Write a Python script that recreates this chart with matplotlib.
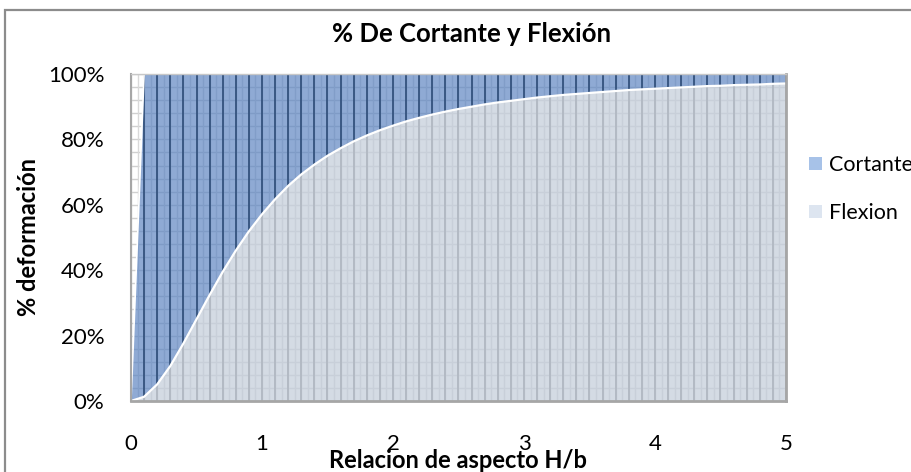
import numpy as np
import matplotlib
matplotlib.use("Agg")
import matplotlib.pyplot as plt
from matplotlib.patches import Patch, Rectangle
from matplotlib.ticker import PercentFormatter
from matplotlib.collections import LineCollection

plt.rcParams['font.family'] = ['Lato', 'DejaVu Sans']

# ---- data ----
relacion = [0.0, 0.1, 0.2, 0.3, 0.4, 0.5, 0.6, 0.7, 0.8, 0.9,
            1.0, 1.1, 1.2, 1.3, 1.4, 1.5, 1.6, 1.7, 1.8, 1.9,
            2.0, 2.1, 2.2, 2.3, 2.4, 2.5, 2.6, 2.7, 2.8, 2.9,
            3.0, 3.1, 3.2, 3.3, 3.4, 3.5, 3.6, 3.7, 3.8, 3.9,
            4.0, 4.1, 4.2, 4.3, 4.4, 4.5, 4.6, 4.7, 4.8, 4.9, 5.0]
flexion = [0.0, 1.3, 5.1, 10.7, 17.6, 25.0, 32.4, 39.5, 46.0, 51.9,
           57.1, 61.7, 65.8, 69.3, 72.3, 75.0, 77.3, 79.4, 81.2, 82.8,
           84.2, 85.5, 86.6, 87.6, 88.5, 89.3, 90.0, 90.7, 91.3, 91.8,
           92.3, 92.8, 93.2, 93.6, 93.9, 94.2, 94.5, 94.8, 95.1, 95.3,
           95.5, 95.7, 95.9, 96.1, 96.3, 96.4, 96.6, 96.7, 96.8, 97.0, 97.1]
cortante = [0.0, 98.7, 94.9, 89.3, 82.4, 75.0, 67.6, 60.5, 54.0, 48.1,
            42.9, 38.3, 34.2, 30.7, 27.7, 25.0, 22.7, 20.6, 18.8, 17.2,
            15.8, 14.5, 13.4, 12.4, 11.5, 10.7, 10.0, 9.3, 8.7, 8.2,
            7.7, 7.2, 6.8, 6.4, 6.1, 5.8, 5.5, 5.2, 4.9, 4.7,
            4.5, 4.3, 4.1, 3.9, 3.7, 3.6, 3.4, 3.3, 3.2, 3.0, 2.9]
series_names = ['Cortante', 'Flexion']
x_ticks = [0, 1, 2, 3, 4, 5]
y_ticks = [0, 20, 40, 60, 80, 100]

W, H = 912, 472
fig = plt.figure(figsize=(W / 100, H / 100), dpi=100)
fig.patch.set_facecolor('white')

# outer chart border (extends past right/bottom edges)
fig.patches.append(Rectangle((5 / W, -0.05), 1.2, 1 - 10 / H + 0.05,
                             transform=fig.transFigure, fill=False,
                             edgecolor='#8c8c8c', linewidth=1.6))

ax = fig.add_axes([131 / W, 71 / H, 655 / W, 327 / H])
ax.set_xlim(0, 5)
ax.set_ylim(0, 100)

col_cort = '#8faad4'
col_flex = '#d4dbe4'
polys = ax.stackplot(relacion, flexion, cortante,
                     colors=[col_flex, col_cort], linewidth=0, zorder=2)
poly_flex, poly_cort = polys

# white edges of areas
total = [f + c for f, c in zip(flexion, cortante)]
ax.plot(relacion, flexion, color='white', lw=1.6, zorder=5)
ax.plot(relacion[:2], total[:2], color='white', lw=1.2, zorder=5)

# grid lines (styling)
xmin_lines = np.arange(0, 5.0001, 0.05)
xmaj_lines = np.arange(0, 5.0001, 0.1)
ylines = np.arange(0, 100.001, 4)


def add_grid(minor_c, major_c, hor_c, z, clip=None):
    segs_h = [[(0, y), (5, y)] for y in ylines]
    segs_min = [[(x, 0), (x, 100)] for x in xmin_lines]
    segs_maj = [[(x, 0), (x, 100)] for x in xmaj_lines]
    for segs, c, lw in ((segs_h, hor_c, 1.0), (segs_min, minor_c, 1.0),
                        (segs_maj, major_c, 1.4)):
        lc = LineCollection(segs, colors=c, linewidths=lw, zorder=z)
        ax.add_collection(lc)
        if clip is not None:
            lc.set_clip_path(clip.get_paths()[0], ax.transData)


add_grid('#d9d9d9', '#c8c8c8', '#d0d0d0', 1)
add_grid('#c8cfd9', '#b3bac4', '#c8cfd9', 3, clip=poly_flex)
add_grid('#819dc8', '#3a5883', '#7f9bc6', 3, clip=poly_cort)

# frame
for side in ['left', 'bottom', 'right', 'top']:
    ax.spines[side].set_color('#a6a6a6')
    ax.spines[side].set_zorder(6)
ax.spines['left'].set_linewidth(1.5)
ax.spines['bottom'].set_linewidth(2.0)
ax.spines['right'].set_linewidth(2.0)
ax.spines['top'].set_linewidth(1.0)
ax.spines['top'].set_color('#c8c8c8')

ax.set_xticks(x_ticks)
ax.set_xticklabels([str(t) for t in x_ticks])
ax.set_yticks(y_ticks)
ax.yaxis.set_major_formatter(PercentFormatter(100, decimals=0))
ax.tick_params(axis='both', length=0, labelsize=16, colors='#000000')
ax.tick_params(axis='x', pad=24)
ax.tick_params(axis='y', pad=19)

ax.set_xlabel('Relacion de aspecto H/b', fontsize=17, fontweight='bold')
ax.xaxis.set_label_coords(0.5, -0.183)
ax.xaxis.label.set_va('center')
ax.set_ylabel('% deformación', fontsize=17, fontweight='bold')
ax.yaxis.set_label_coords(-0.157, 0.5)
ax.yaxis.label.set_va('center')

fig.text(472 / W, 1 - 34 / H, '% De Cortante y Flexión', ha='center',
         va='center', fontsize=18.5, fontweight='bold')

handles = [Patch(facecolor='#a7c2e8', edgecolor='none'),
           Patch(facecolor='#dde5f0', edgecolor='none')]
fig.legend(handles, series_names, loc='upper left',
           bbox_to_anchor=(809 / W, 1 - 155 / H), frameon=False,
           fontsize=15.5, handlelength=0.6, handleheight=0.6,
           handletextpad=0.33, labelspacing=1.3, borderpad=0,
           borderaxespad=0)

fig.savefig('out.png', dpi=100)
